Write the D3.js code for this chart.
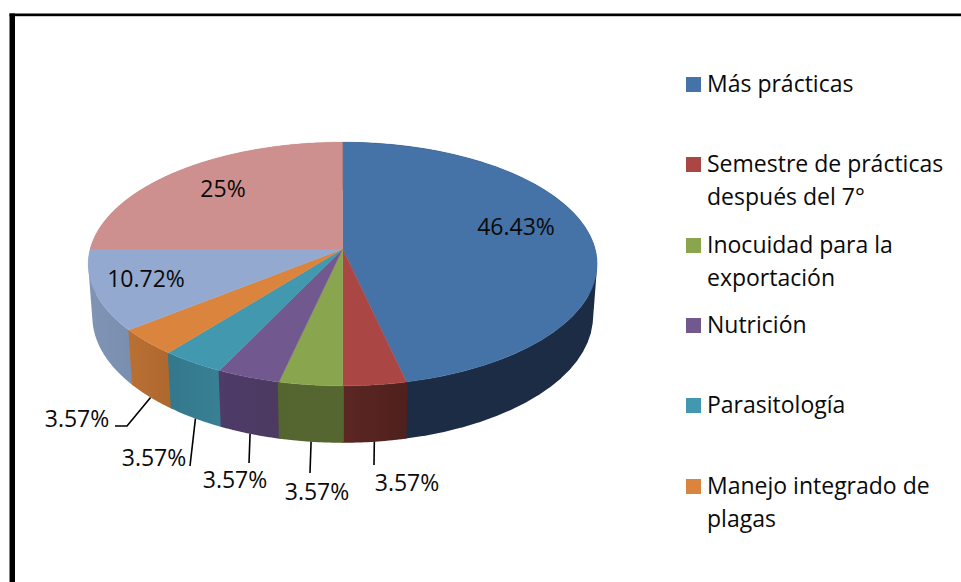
<!DOCTYPE html>
<html><head><meta charset="utf-8">
<script src="https://cdn.jsdelivr.net/npm/d3@7"></script>
<style>html,body{margin:0;padding:0;background:#fff;overflow:hidden}svg{display:block}text{font-family:"Open Sans",sans-serif;fill:#0a0a0a}</style>
</head><body><div id="chart"></div>
<script>
const values = [46.43, 3.57, 3.57, 3.57, 3.57, 3.57, 10.72, 25];
const valueLabels = ["46.43%", "3.57%", "3.57%", "3.57%", "3.57%", "3.57%", "10.72%", "25%"];
const legendLines = [["Más prácticas"], ["Semestre de prácticas", "después del 7°"], ["Inocuidad para la", "exportación"], ["Nutrición"], ["Parasitología"], ["Manejo integrado de", "plagas"]];
const topColors = ["#4572a7", "#aa4643", "#89a54e", "#71588f", "#4198af", "#db843d", "#93a9cf", "#ce908e"];
const sideLeft = ["#1c2e45", "#5c2623", "#55652f", "#4f3a68", "#33788c", "#b86f33", "#7f94b5", "#a87675"];
const sideRight = ["#1b2c44", "#4f201d", "#566631", "#4c3a60", "#3a8095", "#ad682e", "#7a8eaf", "#a87675"];

// layout (pixels), separate from the data
const W = 961, H = 582;
const view = {cx: 342.7, cy: 249, a: 252.5, b: 120, k: 0.123, depth: 53, m: 0.016};
const inside = {0: [516, 235], 6: [146, 287], 7: [223, 197]};
const outside = {1: {text: [407, 491], path: [[374, 465]]}, 2: {text: [317, 500], path: [[310, 473]]}, 3: {text: [235, 488], path: [[249, 463]]}, 4: {text: [154, 466], path: [[190, 466]]}, 5: {text: [77, 427], path: [[127, 426], [115, 426]]}};
const legendRows = [92, 172, 253, 333, 413, 494];
const fontSize = 23, lineGap = 33;

const svg = d3.select("#chart").append("svg").attr("width", W).attr("height", H);
svg.append("rect").attr("width", W).attr("height", H).attr("fill", "#fff");
svg.append("rect").attr("x", 9.5).attr("y", 13.5).attr("width", 5.5).attr("height", H - 13).attr("fill", "#000");
svg.append("rect").attr("x", 9.5).attr("y", 13.5).attr("width", W).attr("height", 2.7).attr("fill", "#000");

function project(angle, lower) {
  const u = Math.sin(angle), v = -Math.cos(angle);
  const w = 1 - view.k * v + (lower ? view.m : 0);
  return [view.cx + view.a * u / w, view.cy + (view.b * v + (lower ? view.depth : 0)) / w];
}
const arcs = d3.pie().sort(null).startAngle(0).endAngle(2 * Math.PI)(values);
const line = d3.line();
const sample = (s, e, n) => d3.range(0, n + 1).map(i => s + (e - s) * i / n);

const defs = svg.append("defs");
arcs.forEach((d, i) => {
  const x0 = project(d.startAngle, true)[0], x1 = project(d.endAngle, true)[0];
  const g = defs.append("linearGradient").attr("id", "wall" + i).attr("gradientUnits", "userSpaceOnUse")
    .attr("x1", Math.min(x0, x1)).attr("x2", Math.max(x0, x1)).attr("y1", 0).attr("y2", 0);
  g.append("stop").attr("offset", 0).attr("stop-color", sideLeft[i]);
  g.append("stop").attr("offset", 1).attr("stop-color", sideRight[i]);
});

const order = arcs.map((d, i) => i).sort((p, q) => {
  const mv = d => -Math.cos((d.startAngle + d.endAngle) / 2);
  return mv(arcs[p]) - mv(arcs[q]);
});
// each wall is one path of overlapping quads wound the same way, so it has
// no seams and the tangent edges of the drum stay straight
function quad(s, e) {
  const q = [project(s - 0.004, false), project(e + 0.004, false), project(e + 0.004, true), project(s - 0.004, true)];
  return line(d3.polygonArea(q) < 0 ? q.reverse() : q) + "Z";
}
svg.append("g").selectAll("path").data(order).join("path")
  .attr("d", i => d3.pairs(sample(arcs[i].startAngle, arcs[i].endAngle, 40)).map(([s, e]) => quad(s, e)).join(""))
  .attr("fill", i => `url(#wall${i})`).attr("fill-rule", "nonzero");

svg.append("g").selectAll("path").data(arcs).join("path")
  .attr("d", d => line([[view.cx, view.cy]].concat(sample(d.startAngle, d.endAngle, 60).map(t => project(t, false)))) + "Z")
  .attr("fill", (d, i) => topColors[i]).attr("stroke", (d, i) => topColors[i]).attr("stroke-width", 0.4);

// leader lines start at the slice's mid-angle on the lower rim
Object.keys(outside).forEach(key => {
  const i = +key, d = arcs[i], mid = (d.startAngle + d.endAngle) / 2;
  svg.append("path").attr("d", line([project(mid, true)].concat(outside[i].path)))
    .attr("fill", "none").attr("stroke", "#000").attr("stroke-width", 1.6);
  svg.append("text").attr("x", outside[i].text[0]).attr("y", outside[i].text[1])
    .attr("text-anchor", "middle").attr("font-size", fontSize).text(valueLabels[i]);
});
Object.keys(inside).forEach(key => {
  svg.append("text").attr("x", inside[key][0]).attr("y", inside[key][1])
    .attr("text-anchor", "middle").attr("font-size", fontSize).text(valueLabels[key]);
});

const legend = svg.append("g").selectAll("g").data(legendLines).join("g");
legend.append("rect").attr("x", 686).attr("y", (d, i) => legendRows[i] - 15).attr("width", 15).attr("height", 15)
  .attr("fill", (d, i) => topColors[i]);
legend.each(function(lines, i) {
  d3.select(this).selectAll("text").data(lines).join("text")
    .attr("x", 707).attr("y", (t, j) => legendRows[i] + j * lineGap)
    .attr("font-size", fontSize).text(t => t);
});
</script></body></html>
